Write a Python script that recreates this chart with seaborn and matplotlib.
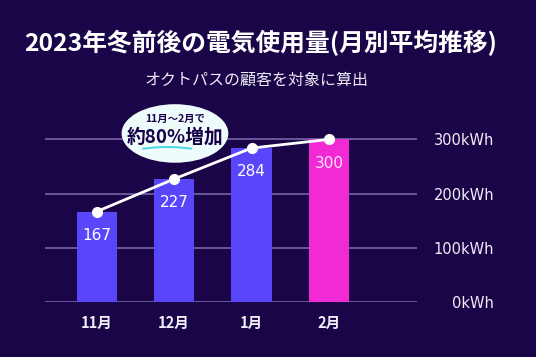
import numpy as np
import pandas as pd
import matplotlib
matplotlib.use("Agg")
import matplotlib.pyplot as plt
import matplotlib.patches as mpatches
import seaborn as sns

# ---------------datos------------------
meses = ["11月", "12月", "1月", "2月"]
consumo = [167, 227, 284, 300]
ticks_y = [0, 100, 200, 300]
etiquetas_y = ["0kWh", "100kWh", "200kWh", "300kWh"]

titulo = "2023年冬前後の電気使用量(月別平均推移)"
subtitulo = "オクトパスの顧客を対象に算出"
nota_1 = "11月～2月で"
nota_2 = "約80%増加"

fondo = "#1a0548"
color_barra = ["#5a46fa", "#5a46fa", "#5a46fa", "#f22ad6"]
color_grid = "#6e5e9e"
fuente = ["DejaVu Sans", "Noto Sans CJK JP"]

sns.set_style("dark")
plt.rcParams["font.family"] = ["Noto Sans CJK JP", "DejaVu Sans"]

df = pd.DataFrame({"mes": meses, "kwh": consumo})

fig = plt.figure(figsize=(5.36, 3.57), dpi=100, facecolor=fondo)
ax = fig.add_axes([0.084, 0.154, 0.694, 0.501])
ax.set_facecolor(fondo)

sns.barplot(data=df, x="mes", y="kwh", hue="mes", palette=color_barra,
            width=0.52, saturation=1, legend=False, ax=ax, zorder=2,
            edgecolor="none", linewidth=0)

ax.set_xlim(-0.67, 4.14)
ax.set_ylim(0, 330)
ax.set_yticks(ticks_y)
ax.set_yticklabels(etiquetas_y, family=fuente)
for y in ticks_y:
    ax.axhline(y, color=color_grid, lw=1.3, zorder=1)
for s in ax.spines.values():
    s.set_visible(False)
ax.grid(False)
ax.set_xlabel("")
ax.set_ylabel("")
ax.tick_params(axis="y", left=False, labelleft=False, right=False, labelright=True,
               pad=52, labelsize=10.5, labelcolor="#f0eef8")
for t in ax.get_yticklabels():
    t.set_horizontalalignment("right")
ax.tick_params(axis="x", length=0, pad=9, labelsize=10.5, labelcolor="#f0eef8")
for t in ax.get_xticklabels():
    t.set_fontweight("bold")

# linea
x_pos = np.arange(len(consumo))
ax.plot(x_pos, consumo, color="white", lw=2, marker="o", ms=7,
        mfc="white", mec="white", zorder=4)

# valores
for i, v in enumerate(consumo):
    c = "#ffe0fa" if i == 3 else "white"
    ax.annotate(str(v), (i, v), xytext=(0, -17), textcoords="offset points",
                ha="center", va="center", fontsize=11, color=c, zorder=5,
                family=fuente)

# burbuja
burbuja = mpatches.Ellipse((1.01, 311), width=1.38, height=108,
                           facecolor="#effcfc", edgecolor="none",
                           zorder=6, clip_on=False)
ax.add_patch(burbuja)
ax.text(1.01, 338, nota_1, ha="center", va="center", fontsize=7.5,
        fontweight="bold", color="#180048", zorder=7, clip_on=False)
ax.text(1.01, 304, nota_2, ha="center", va="center", fontsize=13.5,
        fontweight="bold", color="#180048", zorder=7, clip_on=False)
ux = np.linspace(0.6, 1.22, 20)
uy = 283 + 3 * np.sin((ux - 0.6) / 0.62 * np.pi)
ax.plot(ux, uy, color="#4fd8ea", lw=1.5, zorder=7, clip_on=False,
        solid_capstyle="round")

fig.text(0.487, 1 - 43 / 357, titulo, ha="center", va="center",
         fontsize=17.8, fontweight="bold", color="white")
fig.text(0.478, 1 - 80 / 357, subtitulo, ha="center", va="center",
         fontsize=11.5, color="#ecebf5")

plt.savefig("out.png", dpi=100, facecolor=fondo)
